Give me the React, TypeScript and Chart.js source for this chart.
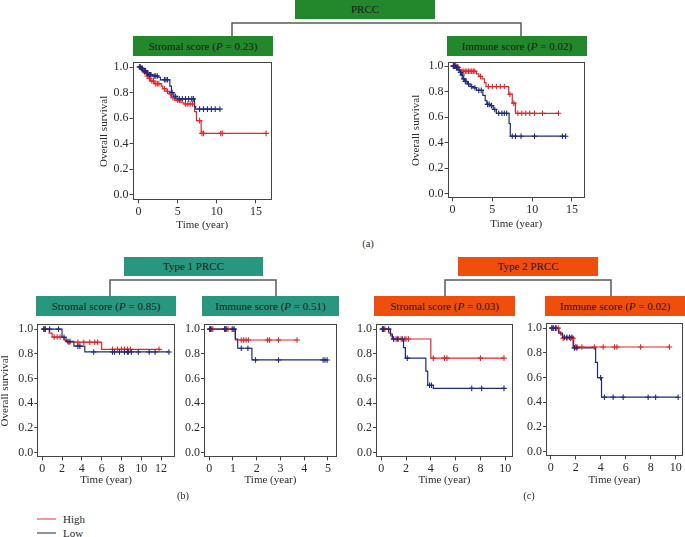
import React, { useEffect, useRef } from "react";
import { Chart, registerables } from "chart.js";

Chart.register(...registerables);

// ---------------- DATA ----------------
// Steps: [time (year), survival] ; censor: times of censored observations
const prccStromalHighSteps: [number, number][] = [[0, 1], [0.4, 0.98], [0.7, 0.96], [1.0, 0.93], [1.3, 0.91], [1.5, 0.89], [2.0, 0.87], [2.9, 0.85], [3.1, 0.83], [3.5, 0.81], [3.9, 0.79], [4.2, 0.76], [4.6, 0.74], [5.4, 0.72], [5.8, 0.71], [7.15, 0.65], [7.4, 0.58], [8.0, 0.48]];
const prccStromalHighCensor = [0.2, 0.5, 0.8, 1.1, 1.4, 1.7, 1.9, 2.2, 2.4, 2.6, 3.3, 3.7, 4.1, 4.4, 5.0, 5.2, 6.0, 6.3, 6.6, 6.9, 7.8, 8.1, 8.3, 10.5, 10.7, 16.3];
const prccStromalLowSteps: [number, number][] = [[0, 1], [0.3, 0.99], [0.6, 0.97], [1.0, 0.95], [1.3, 0.94], [1.8, 0.93], [2.5, 0.92], [2.8, 0.9], [4.0, 0.85], [4.2, 0.8], [4.5, 0.77], [4.9, 0.75], [7.15, 0.69], [7.3, 0.67]];
const prccStromalLowCensor = [0.1, 0.2, 0.4, 0.5, 0.7, 0.8, 0.9, 1.1, 1.2, 1.4, 1.5, 1.6, 2.0, 2.2, 2.4, 3.3, 3.5, 3.7, 4.3, 4.7, 5.2, 5.6, 6.0, 6.4, 6.8, 7.0, 7.8, 8.3, 8.8, 9.3, 9.8, 10.4];

const prccImmuneHighSteps: [number, number][] = [[0, 1], [0.5, 0.99], [0.8, 0.97], [1.0, 0.96], [3.0, 0.94], [3.3, 0.92], [3.7, 0.9], [4.0, 0.87], [4.2, 0.84], [7.05, 0.78], [7.5, 0.71], [7.9, 0.63]];
const prccImmuneHighCensor = [0.1, 0.2, 0.3, 0.4, 0.6, 0.7, 1.2, 1.4, 1.6, 1.8, 2.0, 2.2, 2.4, 2.6, 2.8, 3.5, 4.5, 5.0, 5.5, 6.0, 6.5, 7.2, 7.7, 8.2, 8.7, 9.2, 9.7, 10.3, 11.3, 13.3];
const prccImmuneLowSteps: [number, number][] = [[0, 1], [0.4, 0.99], [0.7, 0.97], [0.9, 0.95], [1.1, 0.93], [1.3, 0.9], [1.5, 0.88], [1.9, 0.86], [2.2, 0.84], [2.6, 0.83], [3.0, 0.81], [3.8, 0.77], [4.1, 0.73], [4.3, 0.7], [4.7, 0.69], [5.1, 0.66], [5.5, 0.63], [7.1, 0.55], [7.25, 0.45]];
const prccImmuneLowCensor = [0.1, 0.2, 0.3, 0.5, 0.6, 0.8, 1.0, 1.2, 1.4, 1.6, 1.7, 2.0, 2.4, 2.8, 3.3, 3.6, 4.4, 4.6, 4.9, 5.3, 5.8, 6.2, 6.5, 6.8, 7.5, 7.9, 8.6, 10.3, 13.8, 14.2];

const type1StromalHighSteps: [number, number][] = [[0, 1], [0.7, 0.968], [1.0, 0.936], [2.2, 0.91], [2.5, 0.894], [6.0, 0.836]];
const type1StromalHighCensor = [0.2, 0.3, 1.2, 1.5, 1.8, 2.7, 3.6, 4.2, 4.8, 5.3, 5.6, 7.1, 7.6, 8.0, 8.3, 8.6, 8.9, 11.8];
const type1StromalLowSteps: [number, number][] = [[0, 1], [2.0, 0.934], [2.4, 0.9], [3.2, 0.862], [4.3, 0.815]];
const type1StromalLowCensor = [0.15, 0.3, 0.75, 1.65, 2.2, 2.6, 2.8, 3.6, 3.8, 5.2, 7.1, 7.3, 7.8, 8.3, 8.6, 8.7, 9.0, 9.7, 10.8, 11.4, 12.8];

const type1ImmuneHighSteps: [number, number][] = [[0, 1], [1.1, 0.912]];
const type1ImmuneHighCensor = [0.05, 0.1, 0.15, 0.65, 0.72, 0.79, 0.96, 1.35, 1.45, 1.55, 1.65, 2.46, 2.54, 2.92, 3.7];
const type1ImmuneLowSteps: [number, number][] = [[0, 1], [1.1, 0.92], [1.2, 0.845], [1.8, 0.75]];
const type1ImmuneLowCensor = [0.02, 0.05, 0.65, 0.7, 1.0, 1.05, 1.35, 1.63, 1.95, 2.92, 4.8, 4.88, 4.97];

const type2StromalHighSteps: [number, number][] = [[0, 1], [0.6, 0.97], [0.75, 0.945], [0.9, 0.92], [4.0, 0.765]];
const type2StromalHighCensor = [0.1, 0.2, 0.3, 1.0, 1.2, 1.4, 1.6, 1.9, 2.0, 2.2, 4.2, 5.1, 5.3, 8.0, 9.9];
const type2StromalLowSteps: [number, number][] = [[0, 1], [0.75, 0.96], [0.9, 0.92], [1.8, 0.85], [1.95, 0.765], [3.6, 0.66], [3.75, 0.545], [4.2, 0.52]];
const type2StromalLowCensor = [0.1, 0.2, 0.6, 1.0, 1.3, 1.7, 2.1, 3.9, 4.05, 7.3, 8.1, 9.9];

const type2ImmuneHighSteps: [number, number][] = [[0, 1], [0.65, 0.97], [0.8, 0.945], [0.95, 0.918], [1.85, 0.847]];
const type2ImmuneHighCensor = [0.1, 0.25, 0.45, 0.6, 1.0, 1.3, 1.6, 1.8, 2.0, 2.1, 2.5, 3.5, 4.2, 5.1, 5.3, 7.2, 9.5];
const type2ImmuneLowSteps: [number, number][] = [[0, 1], [0.65, 0.96], [0.95, 0.926], [1.8, 0.84], [3.6, 0.722], [3.75, 0.598], [4.07, 0.44]];
const type2ImmuneLowCensor = [0.1, 0.2, 0.4, 1.1, 1.3, 1.5, 1.7, 1.9, 2.1, 4.0, 4.3, 5.0, 5.8, 7.8, 8.4, 10.2];

const yTickValues = [0, 0.2, 0.4, 0.6, 0.8, 1.0];
const xTicksPrcc = [0, 5, 10, 15];
const xTicksType1Stromal = [0, 2, 4, 6, 8, 10, 12];
const xTicksType1Immune = [0, 1, 2, 3, 4, 5];
const xTicksType2 = [0, 2, 4, 6, 8, 10];

const groupLabels = ["High", "Low"];

// ---------------- STYLE ----------------
const RED = "#e3262c";
const NAVY = "#1f2a7a";
const AXIS = "#444";
const TEXT = "#2a2a2a";
const FONT = "'Liberation Serif', 'Times New Roman', serif";
const GREEN = "#23872c";
const TEAL = "#27987f";
const ORANGE = "#f04e0c";

Chart.defaults.font.family = FONT;

const survAt = (steps: [number, number][], t: number) => {
  let s = steps[0][1];
  for (const [ti, si] of steps) if (ti <= t) s = si;
  return s;
};

const framePlugin = {
  id: "frame",
  afterDraw(chart: any) {
    const { ctx, chartArea } = chart;
    ctx.save();
    ctx.strokeStyle = AXIS;
    ctx.lineWidth = 1;
    ctx.strokeRect(
      Math.round(chartArea.left) + 0.5,
      Math.round(chartArea.top) + 0.5,
      Math.round(chartArea.right - chartArea.left) - 1,
      Math.round(chartArea.bottom - chartArea.top) - 1
    );
    ctx.restore();
  },
};

type PanelDef = {
  fl: number; ft: number; fr: number; fb: number; // frame rectangle
  yTitleX: number | null; xTitleY: number;
  xMin: number; xMax: number; yMin: number; yMax: number;
  xTicks: number[];
  high: [number, number][]; highC: number[];
  low: [number, number][]; lowC: number[];
};

const PAD_T = 5;
const PAD_R = 4;

function KMPanel({ p }: { p: PanelDef }) {
  const ref = useRef<HTMLCanvasElement>(null);
  const yW = p.yTitleX !== null ? p.fl - (p.yTitleX - 6.6) : 30;
  const xH = p.xTitleY + 6.6 - p.fb;
  const left = p.fl - yW;
  const top = p.ft - PAD_T;
  const width = Math.round(yW + (p.fr - p.fl) + PAD_R);
  const height = Math.round(PAD_T + (p.fb - p.ft) + xH);

  useEffect(() => {
    if (!ref.current) return;
    const lineData = (steps: [number, number][], cens: number[]) => {
      const pts = steps.map(([x, y]) => ({ x, y }));
      const end = Math.max(steps[steps.length - 1][0], ...cens);
      pts.push({ x: end, y: steps[steps.length - 1][1] });
      return pts;
    };
    const censData = (steps: [number, number][], cens: number[]) =>
      cens.map((t) => ({ x: t, y: survAt(steps, t) }));
    const tickFont = { family: FONT, size: 12 };
    const titleFont = { family: FONT, size: 11 };
    const chart = new Chart(ref.current, {
      type: "line",
      data: {
        datasets: [
          { type: "scatter", label: groupLabels[1] + " censor", data: censData(p.low, p.lowC), pointStyle: "cross", pointRadius: 2.8, borderColor: NAVY, borderWidth: 1.1, showLine: false } as any,
          { type: "scatter", label: groupLabels[0] + " censor", data: censData(p.high, p.highC), pointStyle: "cross", pointRadius: 2.8, borderColor: RED, borderWidth: 1.1, showLine: false } as any,
          { label: groupLabels[1], data: lineData(p.low, p.lowC), borderColor: NAVY, borderWidth: 1.2, stepped: "before", pointRadius: 0, fill: false },
          { label: groupLabels[0], data: lineData(p.high, p.highC), borderColor: RED, borderWidth: 1.2, stepped: "before", pointRadius: 0, fill: false },
        ],
      },
      options: {
        animation: false,
        responsive: false,
        maintainAspectRatio: false,
        layout: { padding: { top: PAD_T, right: PAD_R, left: 0, bottom: 0 } },
        plugins: { legend: { display: false }, tooltip: { enabled: false } },
        scales: {
          x: {
            type: "linear",
            min: p.xMin,
            max: p.xMax,
            afterBuildTicks: (s: any) => { s.ticks = p.xTicks.map((v) => ({ value: v })); },
            afterFit: (s: any) => { s.height = xH; },
            grid: { drawOnChartArea: false, drawTicks: true, tickLength: 3, color: AXIS },
            border: { display: false },
            ticks: { padding: 1, font: tickFont, color: TEXT, maxRotation: 0, autoSkip: false, callback: (v: any) => String(v) },
            title: { display: true, text: "Time (year)", padding: 0, font: titleFont, color: TEXT },
          },
          y: {
            type: "linear",
            min: p.yMin,
            max: p.yMax,
            afterBuildTicks: (s: any) => { s.ticks = yTickValues.map((v) => ({ value: v })); },
            afterFit: (s: any) => { s.width = yW; },
            grid: { drawOnChartArea: false, drawTicks: true, tickLength: 3, color: AXIS },
            border: { display: false },
            ticks: { padding: 1, font: tickFont, color: TEXT, autoSkip: false, callback: (v: any) => Number(v).toFixed(1) },
            title: { display: p.yTitleX !== null, text: "Overall survival", padding: 0, font: titleFont, color: TEXT },
          },
        },
      } as any,
      plugins: [framePlugin],
    });
    return () => chart.destroy();
  }, []);

  return (
    <canvas
      ref={ref}
      width={width}
      height={height}
      style={{ position: "absolute", left, top, width, height }}
    />
  );
}

const panels: PanelDef[] = [
  { fl: 133, ft: 59, fr: 273, fb: 200, yTitleX: 105, xTitleY: 225, xMin: -0.76, xMax: 17.04, yMin: -0.046, yMax: 1.038, xTicks: xTicksPrcc, high: prccStromalHighSteps, highC: prccStromalHighCensor, low: prccStromalLowSteps, lowC: prccStromalLowCensor },
  { fl: 448, ft: 59, fr: 586, fb: 198, yTitleX: 417, xTitleY: 224, xMin: -0.625, xMax: 16.625, yMin: -0.038, yMax: 1.031, xTicks: xTicksPrcc, high: prccImmuneHighSteps, highC: prccImmuneHighCensor, low: prccImmuneLowSteps, lowC: prccImmuneLowCensor },
  { fl: 37, ft: 321, fr: 176, fb: 457, yTitleX: 5.3, xTitleY: 480, xMin: -0.5, xMax: 13.4, yMin: -0.04, yMax: 1.04, xTicks: xTicksType1Stromal, high: type1StromalHighSteps, highC: type1StromalHighCensor, low: type1StromalLowSteps, lowC: type1StromalLowCensor },
  { fl: 204, ft: 321, fr: 338, fb: 457, yTitleX: null, xTitleY: 480, xMin: -0.22, xMax: 5.38, yMin: -0.04, yMax: 1.04, xTicks: xTicksType1Immune, high: type1ImmuneHighSteps, highC: type1ImmuneHighCensor, low: type1ImmuneLowSteps, lowC: type1ImmuneLowCensor },
  { fl: 376, ft: 321, fr: 514, fb: 457, yTitleX: null, xTitleY: 480, xMin: -0.42, xMax: 10.62, yMin: -0.04, yMax: 1.04, xTicks: xTicksType2, high: type2StromalHighSteps, highC: type2StromalHighCensor, low: type2StromalLowSteps, lowC: type2StromalLowCensor },
  { fl: 546, ft: 320, fr: 684, fb: 456, yTitleX: null, xTitleY: 480, xMin: -0.37, xMax: 10.58, yMin: -0.04, yMax: 1.04, xTicks: xTicksType2, high: type2ImmuneHighSteps, highC: type2ImmuneHighCensor, low: type2ImmuneLowSteps, lowC: type2ImmuneLowCensor },
];

type HeaderDef = { l: number; t: number; r: number; b: number; color: string; text: React.ReactNode };

const pText = (name: string, p: string) => (
  <span>
    {name} (<i>P</i> = {p})
  </span>
);

const headers: HeaderDef[] = [
  { l: 295, t: 0, r: 435, b: 19, color: GREEN, text: "PRCC" },
  { l: 133, t: 36, r: 273, b: 56, color: GREEN, text: pText("Stromal score", "0.23") },
  { l: 447, t: 36, r: 587, b: 56, color: GREEN, text: pText("Immune score", "0.02") },
  { l: 124, t: 257, r: 263, b: 276, color: TEAL, text: "Type 1 PRCC" },
  { l: 458, t: 257, r: 598, b: 276, color: ORANGE, text: "Type 2 PRCC" },
  { l: 36, t: 296, r: 176, b: 316, color: TEAL, text: pText("Stromal score", "0.85") },
  { l: 202, t: 296, r: 339, b: 316, color: TEAL, text: pText("Immune score", "0.51") },
  { l: 374, t: 296, r: 515, b: 316, color: ORANGE, text: pText("Stromal score", "0.03") },
  { l: 545, t: 296, r: 685, b: 316, color: ORANGE, text: pText("Immune score", "0.02") },
];

const connectors = [
  "232,36 232,23 521,23 521,36",
  "110,296 110,280 276,280 276,296",
  "445,296 445,280 611,280 611,296",
];

const captions = [
  { x: 368, y: 243, text: "(a)" },
  { x: 183, y: 495, text: "(b)" },
  { x: 529, y: 495, text: "(c)" },
];

export default function App() {
  return (
    <div style={{ position: "absolute", left: 0, top: 0, width: 685, height: 537, background: "#fff", fontFamily: FONT, overflow: "hidden" }}>
      <svg width={685} height={537} style={{ position: "absolute", left: 0, top: 0 }}>
        {connectors.map((pts, i) => (
          <polyline key={i} points={pts} fill="none" stroke="#5a5a5a" strokeWidth={1.5} />
        ))}
        <line x1={37} y1={519} x2={56} y2={519} stroke="#e05a5a" strokeWidth={1.2} />
        <line x1={37} y1={533} x2={56} y2={533} stroke="#3b4788" strokeWidth={1.2} />
      </svg>
      {headers.map((h, i) => (
        <div
          key={i}
          style={{
            position: "absolute", left: h.l, top: h.t, width: h.r - h.l, height: h.b - h.t,
            background: h.color, color: "#1a1a1a", fontSize: 11, lineHeight: `${h.b - h.t}px`,
            textAlign: "center", whiteSpace: "nowrap",
          }}
        >
          {h.text}
        </div>
      ))}
      {panels.map((p, i) => (
        <KMPanel key={i} p={p} />
      ))}
      {captions.map((c, i) => (
        <div key={i} style={{ position: "absolute", left: c.x, top: c.y, transform: "translate(-50%,-50%)", fontSize: 10.5, color: TEXT }}>
          {c.text}
        </div>
      ))}
      <div style={{ position: "absolute", left: 63, top: 519, transform: "translateY(-50%)", fontSize: 11, color: TEXT }}>{groupLabels[0]}</div>
      <div style={{ position: "absolute", left: 63, top: 533, transform: "translateY(-50%)", fontSize: 11, color: TEXT }}>{groupLabels[1]}</div>
    </div>
  );
}
